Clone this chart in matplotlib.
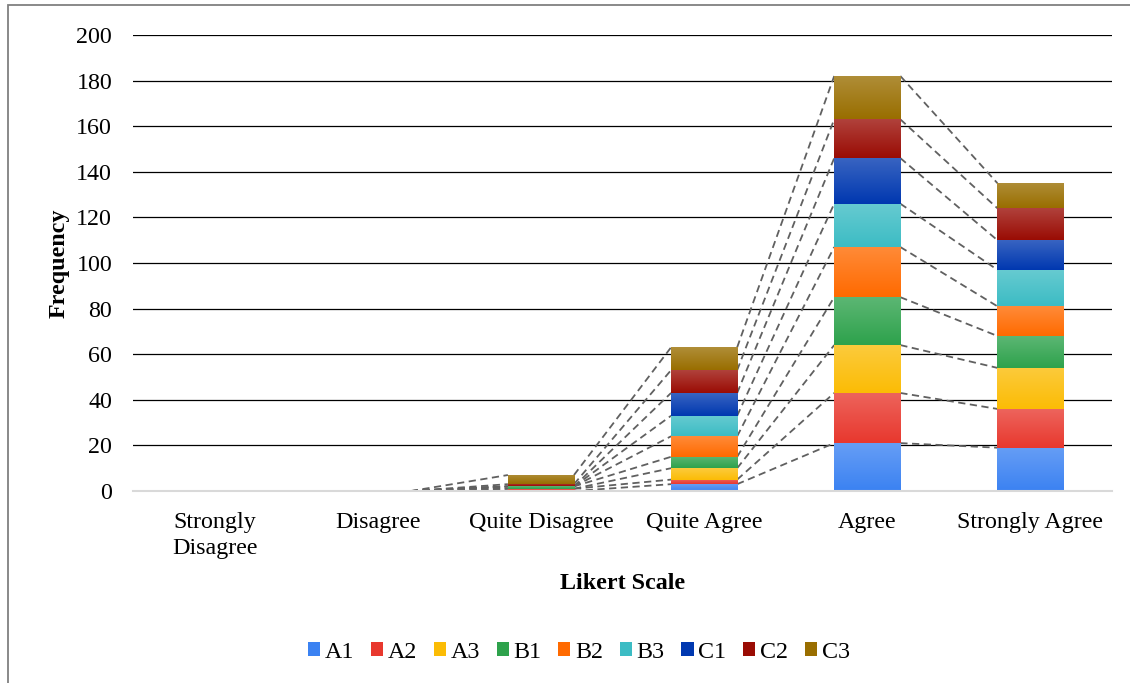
import numpy as np
import matplotlib
matplotlib.use("Agg")
import matplotlib.pyplot as plt
from matplotlib.colors import to_rgb
from matplotlib.patches import Rectangle, Patch

plt.rcParams['font.family'] = ['Liberation Serif', 'DejaVu Serif']

categories = ["Strongly\nDisagree", "Disagree", "Quite Disagree",
              "Quite Agree", "Agree", "Strongly Agree"]
series = ["A1", "A2", "A3", "B1", "B2", "B3", "C1", "C2", "C3"]

# responses per item, one value per Likert category
A1 = [0, 0, 0, 3, 21, 19]
A2 = [0, 0, 1, 2, 22, 17]
A3 = [0, 0, 0, 5, 21, 18]
B1 = [0, 0, 1, 5, 21, 14]
B2 = [0, 0, 0, 9, 22, 13]
B3 = [0, 0, 0, 9, 19, 16]
C1 = [0, 0, 0, 10, 20, 13]
C2 = [0, 0, 1, 10, 17, 14]
C3 = [0, 0, 4, 10, 19, 11]

yticks = [0, 20, 40, 60, 80, 100, 120, 140, 160, 180, 200]

colors = ["#3b82f2", "#e8382e", "#fbbc05", "#2ea24c", "#ff6a00",
          "#3cbcc4", "#0038b0", "#9a0c04", "#996e00"]

data = np.array([A1, A2, A3, B1, B2, B3, C1, C2, C3], dtype=float)

FS = 17.3

fig = plt.figure(figsize=(11.3, 6.83), dpi=100)
ax = fig.add_axes([0.1177, 0.2811, 0.8664, 0.6677])

x = np.arange(len(categories))
width = 0.405
bottom = np.zeros(len(categories))
tops = []


def lighten(c, f):
    r, g, b = to_rgb(c)
    return (r + (1 - r) * f, g + (1 - g) * f, b + (1 - b) * f)


for vals, col in zip(data, colors):
    bars = ax.bar(x, vals, width, bottom=bottom, color=col, linewidth=0, zorder=3)
    top_c = np.array(lighten(col, 0.22))
    bot_c = np.array(to_rgb(col))
    for p in bars.patches:
        h = p.get_height()
        if h <= 0:
            continue
        t = np.linspace(0, 1, 64)[:, None]
        grad = (top_c[None, :] * (1 - t) + bot_c[None, :] * t)[:, None, :]
        x0, y0 = p.get_x(), p.get_y()
        im = ax.imshow(grad, extent=(x0, x0 + p.get_width(), y0, y0 + h),
                       aspect='auto', interpolation='bilinear', zorder=3.5)
        im.set_clip_path(p)
    bottom = bottom + vals
    tops.append(bottom.copy())

# dashed series lines connecting segment tops between neighbouring columns
for cum in tops:
    for j in range(len(categories) - 1):
        ax.plot([x[j] + width / 2, x[j + 1] - width / 2], [cum[j], cum[j + 1]],
                linestyle=(0, (4, 2.5)), color="#606060", linewidth=1.3, zorder=2)

ax.set_xlim(-0.5, len(categories) - 0.5)
ax.set_ylim(0, 200)
ax.set_yticks(yticks)
ax.set_xticks(x)
ax.set_xticklabels(categories, fontsize=FS, linespacing=1.3)
ax.tick_params(axis='y', length=0, pad=15, labelsize=FS)
ax.tick_params(axis='x', length=0, pad=15)
ax.grid(axis='y', color="black", linewidth=0.9, zorder=0)
ax.set_axisbelow(True)
for s in ["top", "right", "left"]:
    ax.spines[s].set_visible(False)
ax.spines["bottom"].set_color("#d9d9d9")
ax.spines["bottom"].set_linewidth(1.5)
ax.spines["bottom"].set_zorder(4)

ax.set_ylabel("Frequency", fontsize=FS, fontweight="bold", labelpad=5)
ax.set_xlabel("Likert Scale", fontsize=FS, fontweight="bold", labelpad=10)

handles = [Patch(facecolor=c, edgecolor="none") for c in colors]
fig.legend(handles, series, loc="center", bbox_to_anchor=(0.512, 0.045),
           ncol=len(series), frameon=False, fontsize=FS, handlelength=0.5,
           handleheight=0.5, handletextpad=0.2, columnspacing=0.7)

# outer chart border
fig.add_artist(Rectangle((7.5 / 1130, -0.1), 1.2, 1 - 5.5 / 683 + 0.1,
                         transform=fig.transFigure, fill=False,
                         edgecolor="#808080", linewidth=1.3))

fig.savefig("out.png", dpi=100)
